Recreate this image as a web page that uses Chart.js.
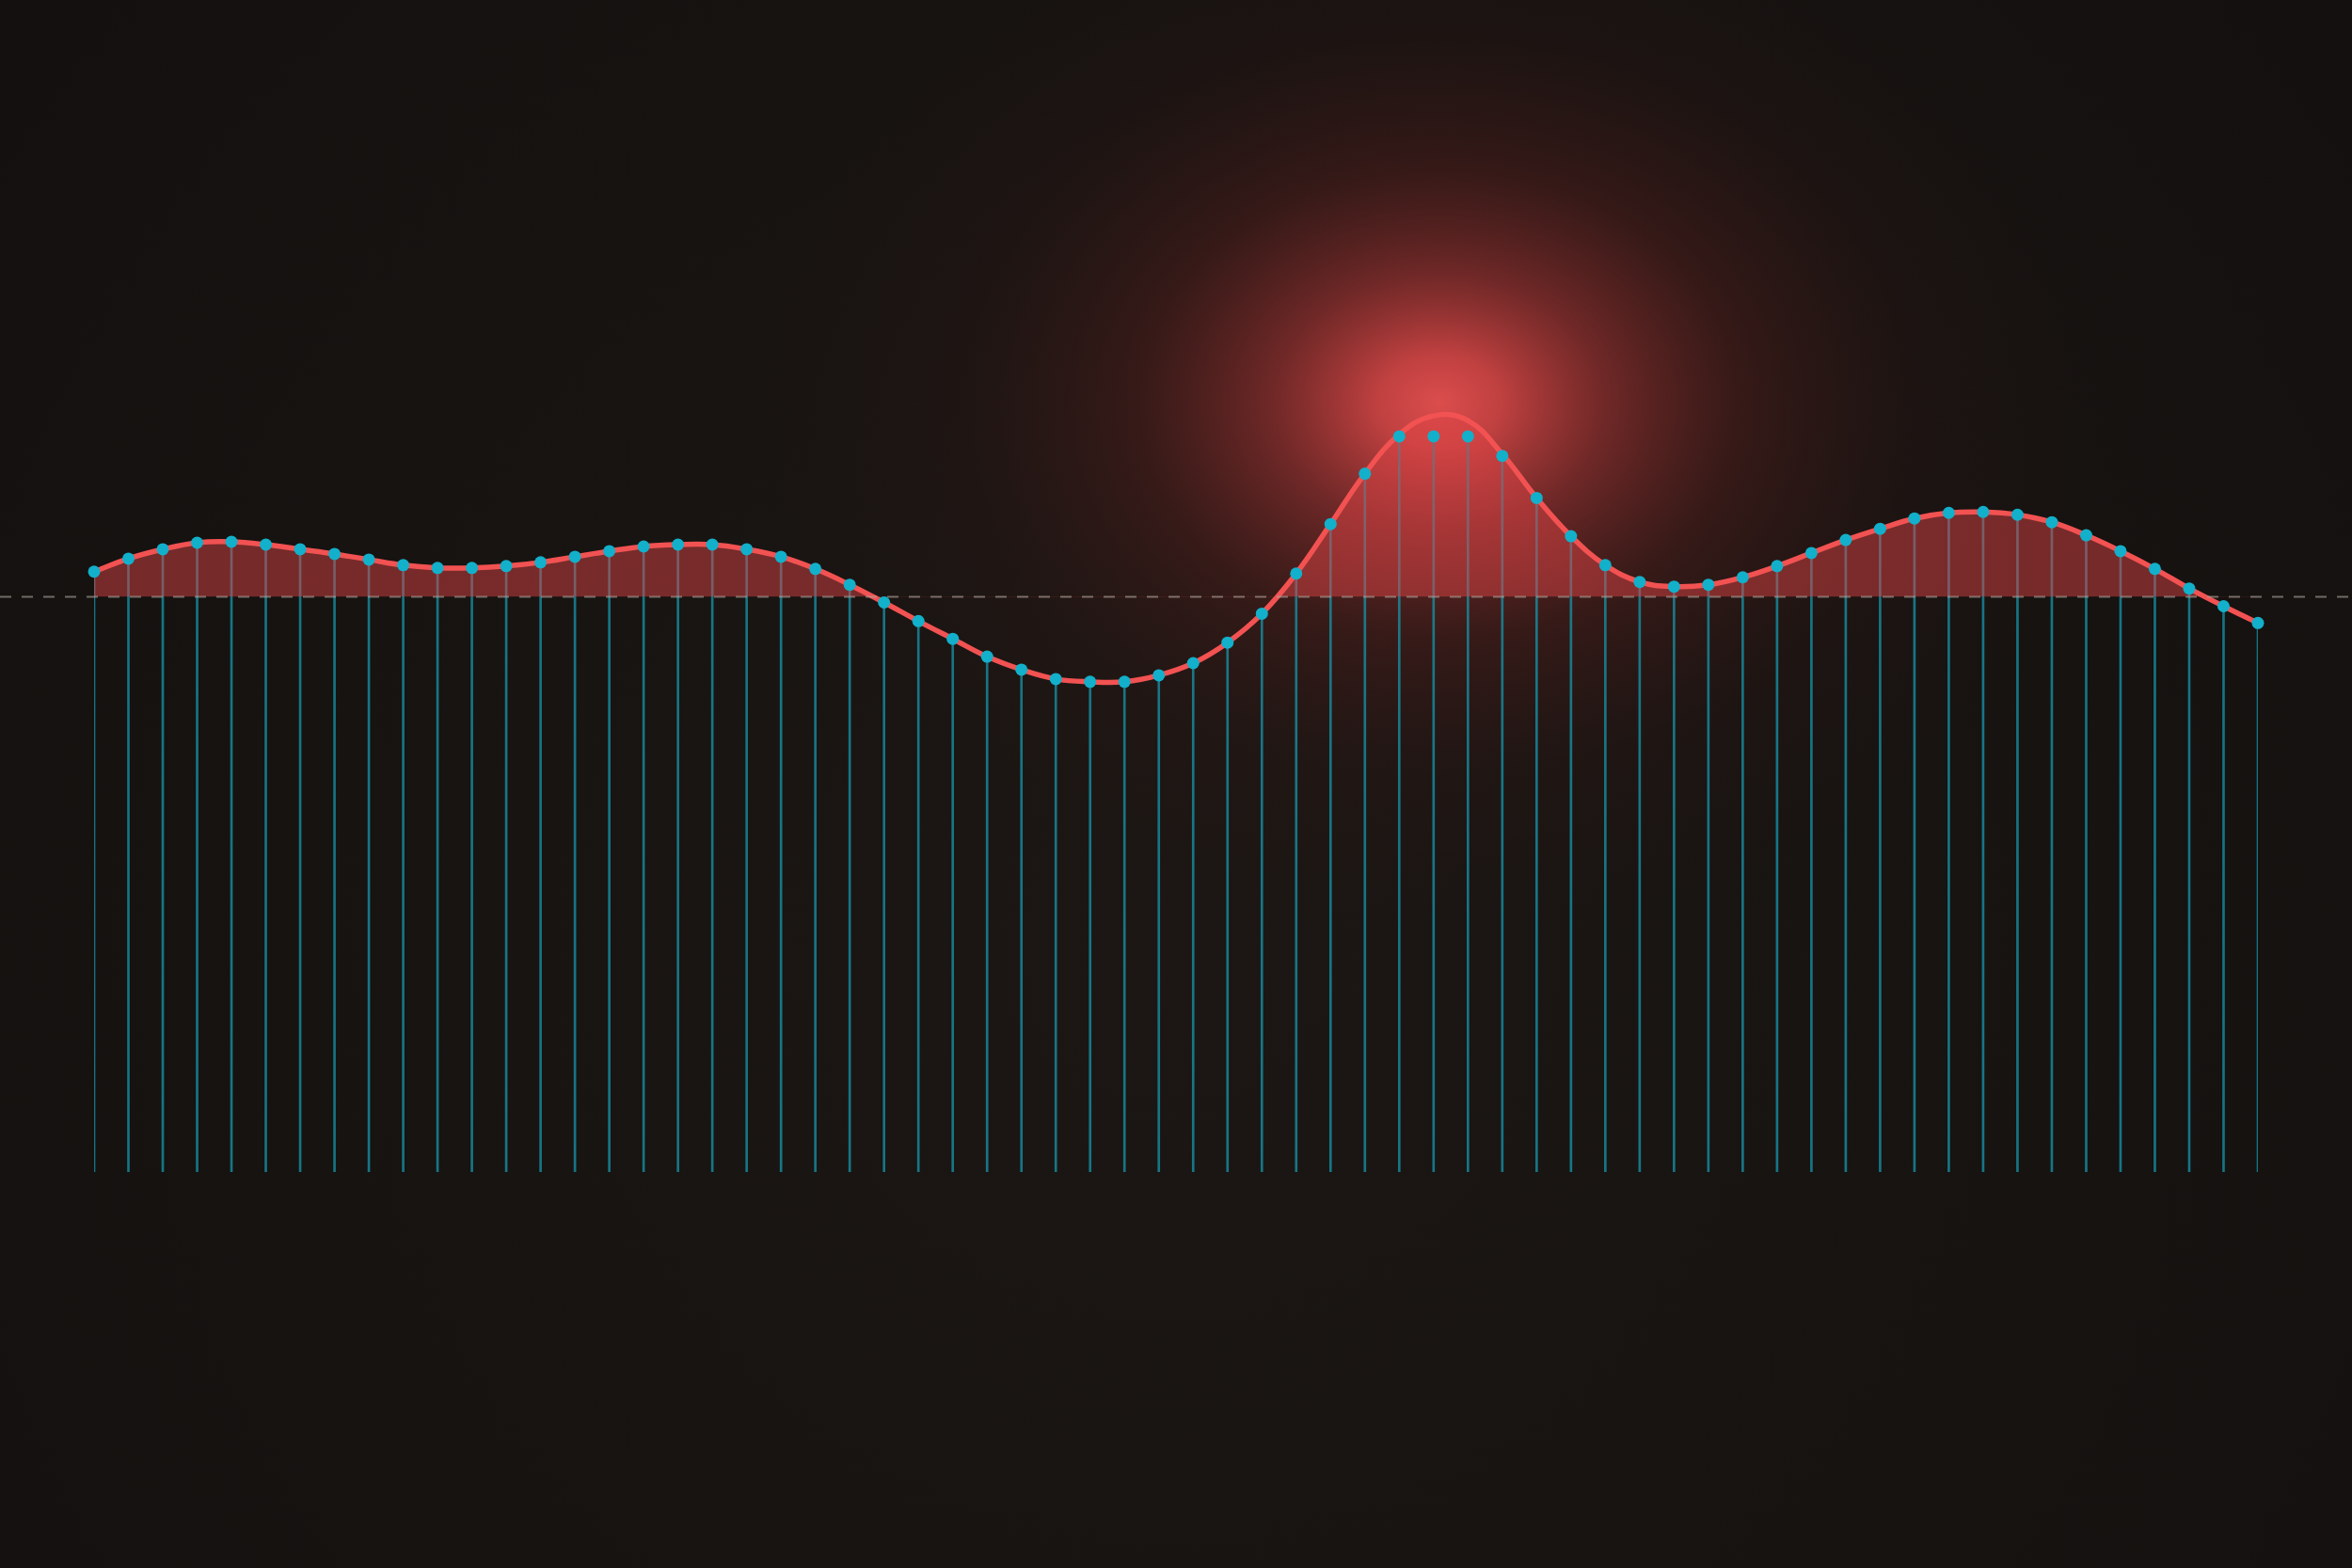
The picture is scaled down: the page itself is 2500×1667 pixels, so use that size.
<!DOCTYPE html>
<html>
<head>
<meta charset="utf-8">
<script src="https://cdn.jsdelivr.net/npm/chart.js@4.4.1/dist/chart.umd.min.js"></script>
<style>
  html, body { margin: 0; padding: 0; background: #151210; overflow: hidden; }
  #wrap { width: 2500px; height: 1667px; position: relative; }
</style>
</head>
<body>
<div id="wrap"><canvas id="signalChart"></canvas></div>
<script>
// valores (unidades relativas a la línea base 0)
const samples = [
  0.27, 0.41, 0.51, 0.58, 0.59, 0.56, 0.51, 0.46, 0.40, 0.34,
  0.31, 0.31, 0.33, 0.37, 0.43, 0.49, 0.54, 0.56, 0.56, 0.51,
  0.43, 0.30, 0.13, -0.06, -0.26, -0.45, -0.64, -0.78, -0.88, -0.91,
  -0.91, -0.84, -0.71, -0.49, -0.18, 0.25, 0.78, 1.32, 1.72, 1.72,
  1.72, 1.51, 1.06, 0.65, 0.34, 0.16, 0.11, 0.13, 0.21, 0.33,
  0.47, 0.61, 0.73, 0.84, 0.90, 0.91, 0.88, 0.80, 0.66, 0.49,
  0.30, 0.09, -0.10, -0.28
];
// curva suave (coincide con las muestras salvo en el pico)
const curve = [
  0.27, 0.41, 0.51, 0.58, 0.59, 0.56, 0.51, 0.46, 0.40, 0.34,
  0.31, 0.31, 0.33, 0.37, 0.43, 0.49, 0.54, 0.56, 0.56, 0.51,
  0.43, 0.30, 0.13, -0.06, -0.26, -0.45, -0.64, -0.78, -0.88, -0.91,
  -0.91, -0.84, -0.71, -0.49, -0.18, 0.25, 0.78, 1.32, 1.74, 1.94,
  1.89, 1.53, 1.06, 0.65, 0.34, 0.16, 0.11, 0.13, 0.21, 0.33,
  0.47, 0.61, 0.73, 0.84, 0.90, 0.91, 0.88, 0.80, 0.66, 0.49,
  0.30, 0.09, -0.10, -0.28
];
const labels = samples.map((_, i) => i);
const stemFloor = -6.16;
const baseline = 0;
const yMin = -10.34;
const yMax = 6.33;

// fondo oscuro con viñeta y resplandor
const backgroundPlugin = {
  id: 'fondo',
  beforeDraw(chart) {
    const { ctx, width, height } = chart;
    ctx.save();
    const g = ctx.createRadialGradient(width * 0.5, height * 0.6, 0, width * 0.5, height * 0.6, width * 0.75);
    g.addColorStop(0, '#1c1714');
    g.addColorStop(1, '#110f0e');
    ctx.fillStyle = g;
    ctx.fillRect(0, 0, width, height);

    // resplandor rojo alrededor del máximo
    const x = chart.scales.x;
    const y = chart.scales.y;
    const peak = curve.indexOf(Math.max(...curve));
    const cx = x.getPixelForValue(peak) + 6;
    const cy = y.getPixelForValue(curve[peak]) - 14;
    const r = 720;
    ctx.translate(cx, cy);
    ctx.scale(1, 0.78);
    const glow = ctx.createRadialGradient(0, 0, 0, 0, 0, r);
    glow.addColorStop(0, 'rgba(230, 80, 80, 0.95)');
    glow.addColorStop(0.09, 'rgba(220, 72, 72, 0.86)');
    glow.addColorStop(0.25, 'rgba(180, 56, 56, 0.55)');
    glow.addColorStop(0.45, 'rgba(120, 38, 36, 0.3)');
    glow.addColorStop(0.7, 'rgba(80, 28, 26, 0.11)');
    glow.addColorStop(1, 'rgba(60, 22, 20, 0)');
    ctx.fillStyle = glow;
    ctx.beginPath();
    ctx.arc(0, 0, r, 0, Math.PI * 2);
    ctx.fill();
    ctx.restore();
  },
  // línea base discontinua, por encima del relleno y debajo de los puntos
  afterDatasetDraw(chart, args) {
    if (args.index !== 1) return;
    const { ctx, width } = chart;
    const py = chart.scales.y.getPixelForValue(baseline);
    ctx.save();
    ctx.strokeStyle = 'rgba(175, 166, 156, 0.6)';
    ctx.lineWidth = 2;
    ctx.setLineDash([12, 11]);
    ctx.beginPath();
    ctx.moveTo(0, py);
    ctx.lineTo(width, py);
    ctx.stroke();
    ctx.restore();
  }
};

const ctx = document.getElementById('signalChart').getContext('2d');
new Chart(ctx, {
  type: 'line',
  data: {
    labels: labels,
    datasets: [
      {
        type: 'bar',
        label: 'tallos',
        data: samples.map(v => [stemFloor, v]),
        backgroundColor: 'rgba(22, 145, 165, 0.78)',
        borderWidth: 0,
        barThickness: 2,
        order: 3
      },
      {
        label: 'curva',
        data: curve,
        borderColor: 'rgb(242, 82, 82)',
        borderWidth: 5.5,
        tension: 0.4,
        pointRadius: 0,
        fill: { target: { value: baseline }, above: 'rgba(225, 70, 72, 0.48)', below: 'rgba(0, 0, 0, 0)' },
        clip: false,
        order: 2
      },
      {
        label: 'muestras',
        data: samples,
        showLine: false,
        pointRadius: 6.5,
        pointBackgroundColor: 'rgb(18, 176, 202)',
        pointBorderWidth: 0,
        clip: false,
        order: 1
      }
    ]
  },
  options: {
    responsive: true,
    maintainAspectRatio: false,
    animation: false,
    layout: { padding: { left: 100, right: 100, top: 0, bottom: 0 } },
    plugins: { legend: { display: false }, tooltip: { enabled: false } },
    scales: {
      x: { display: false, offset: false, grid: { display: false } },
      y: { display: false, min: yMin, max: yMax, grid: { display: false } }
    }
  },
  plugins: [backgroundPlugin]
});
</script>
</body>
</html>
